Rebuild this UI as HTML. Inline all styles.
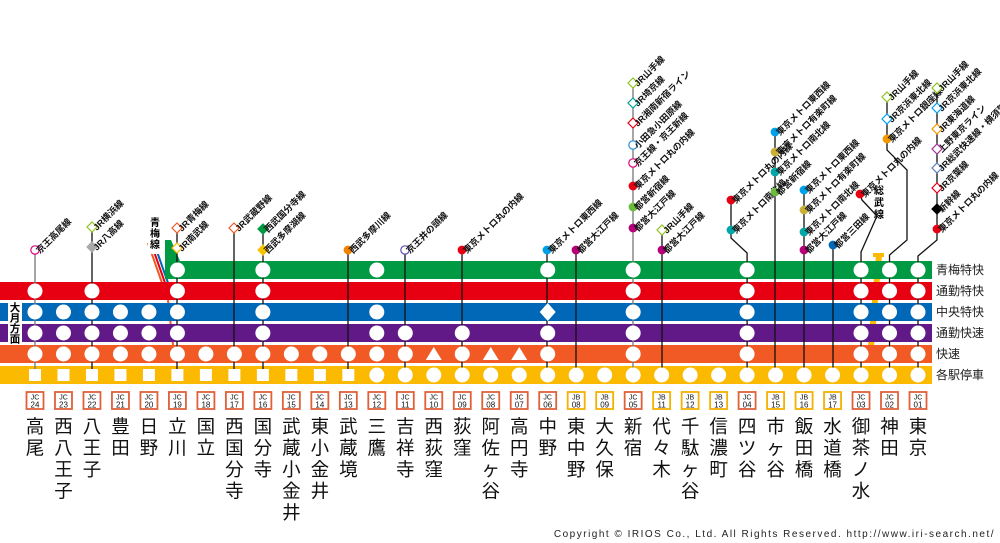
<!DOCTYPE html>
<html><head><meta charset="utf-8"><style>
html,body{margin:0;padding:0;background:#fff;}
svg{display:block;font-family:"Liberation Sans","Noto Sans CJK JP",sans-serif;}
</style></head><body>
<svg id="c" width="1000" height="543" viewBox="0 0 1000 543" xmlns="http://www.w3.org/2000/svg">
<g id="under"></g><g id="bands"></g><g id="lines"></g><g id="marks"></g><g id="labels"></g>
<text x="995" y="537" text-anchor="end" font-size="10" letter-spacing="1.5" fill="#222">Copyright © IRIOS Co., Ltd. All Rights Reserved.  http://www.iri-search.net/</text>
</svg>
<script>
const stations=["高尾","西八王子","八王子","豊田","日野","立川","国立","西国分寺","国分寺","武蔵小金井","東小金井","武蔵境","三鷹","吉祥寺","西荻窪","荻窪","阿佐ヶ谷","高円寺","中野","東中野","大久保","新宿","代々木","千駄ヶ谷","信濃町","四ツ谷","市ヶ谷","飯田橋","水道橋","御茶ノ水","神田","東京"];
const codes=["JC24","JC23","JC22","JC21","JC20","JC19","JC18","JC17","JC16","JC15","JC14","JC13","JC12","JC11","JC10","JC09","JC08","JC07","JC06","JB08","JB09","JC05","JB11","JB12","JB13","JC04","JB15","JB16","JB17","JC03","JC02","JC01"];
const bandNames=["青梅特快","通勤特快","中央特快","通勤快速","快速","各駅停車"];
const bandColors=["#009a44","#e60012","#0068b7","#601986","#f15a24","#fbb900"];
const stopGreen =".....o..o...o.....o..o...o...ooo";
const stopRed   ="o.o..o..o............o...o...ooo";
const stopBlue  ="oooooo..o...o.....d..o...o...ooo";
const stopPurple="oooooo..o...oo.o..o..o...o...ooo";
const stopOrange="oooooooooooooototto..o...o...ooo";
const stopYellow="ssssssssssssoooooooooooooooooooo";
const stops=[stopGreen,stopRed,stopBlue,stopPurple,stopOrange,stopYellow];
// transfers: [stationIndex, markerX, [[y,type,color,label],...]]
const transfers=[
[0,35,[[250,"oc","#e4007f","京王高尾線"]]],
[2,92,[[227,"od","#8fc31f","JR横浜線"],[247,"fd","#aaa","JR八高線"]]],
[5,177,[[228,"od","#f15a24","JR青梅線"],[248,"od","#fbb900","JR南武線"]]],
[7,234,[[228,"od","#f15a24","JR武蔵野線"]]],
[8,263,[[229,"fd","#009a44","西武国分寺線"],[250,"fd","#f7c200","西武多摩湖線"]]],
[11,348,[[250,"fc","#f08300","西武多摩川線"]]],
[13,405,[[250,"oc","#5a4fb0","京王井の頭線"]]],
[15,462,[[250,"fc","#e60012","東京メトロ丸の内線"]]],
[18,547,[[250,"fc","#00a0e9","東京メトロ東西線"]]],
[19,576,[[250,"fc","#b6007a","都営大江戸線"]]],
[21,633,[[83,"od","#8fc31f","JR山手線"],[103,"od","#00a29a","JR埼京線"],[123,"od","#e60012","JR湘南新宿ライン"],[145,"oc","#2e8fd8","小田急小田原線"],[163,"oc","#e4007f","京王線・京王新線"],[186,"fc","#e60012","東京メトロ丸の内線"],[207,"fc","#6cbb3c","都営新宿線"],[228,"fc","#b6007a","都営大江戸線"]]],
[22,662,[[230,"od","#8fc31f","JR山手線"],[250,"fc","#b6007a","都営大江戸線"]]],
[25,731,[[200,"fc","#e60012","東京メトロ丸の内線"],[230,"fc","#00a7a8","東京メトロ南北線"]]],
[26,775,[[132,"fc","#00a0e9","東京メトロ東西線"],[152,"fc","#c9b037","東京メトロ有楽町線"],[172,"fc","#00a7a8","東京メトロ南北線"],[192,"fc","#6cbb3c","都営新宿線"]]],
[27,804,[[190,"fc","#00a0e9","東京メトロ東西線"],[210,"fc","#c9b037","東京メトロ有楽町線"],[232,"fc","#00a7a8","東京メトロ南北線"],[250,"fc","#b6007a","都営大江戸線"]]],
[28,833,[[245,"fc","#0068b7","都営三田線"]]],
[29,860,[[194,"fc","#e60012","東京メトロ丸の内線"]]],
[30,887,[[97,"od","#8fc31f","JR山手線"],[119,"od","#00a0e9","JR京浜東北線"],[139,"fc","#f39800","東京メトロ銀座線"]]],
[31,937,[[88,"od","#8fc31f","JR山手線"],[108,"od","#00a0e9","JR京浜東北線"],[129,"od","#f39800","JR東海道線"],[149,"od","#a0309a","上野東京ライン"],[168,"od","#5a7fb5","JR総武快速線・横須賀線"],[188,"od","#e60012","JR京葉線"],[209,"fd","#000","新幹線"],[229,"fc","#e60012","東京メトロ丸の内線"]]]
];
const NS="http://www.w3.org/2000/svg";
function mk(tag,attrs,parent,txt){const e=document.createElementNS(NS,tag);for(const k in attrs)e.setAttribute(k,attrs[k]);if(txt!==undefined)e.textContent=txt;parent.appendChild(e);return e;}
const xOf=i=>35+i*(918-35)/31;
const bandY=b=>261+b*21;
const BH=18;
const under=document.getElementById('under'),bands=document.getElementById('bands'),lines=document.getElementById('lines'),marks=document.getElementById('marks'),labels=document.getElementById('labels');

[["#f15a24",148],["#e60012",151],["#0068b7",154]].forEach(([c,x0])=>{
  const l=mk('line',{x1:x0,y1:243,x2:x0+20,y2:300,stroke:c,'stroke-width':2},under);
  
  
});
const ol=mk('line',{x1:168,y1:300,x2:173,y2:345,stroke:"#f15a24",'stroke-width':2},under);


const sb=mk('line',{x1:879,y1:255,x2:871,y2:346,stroke:"#fbb900",'stroke-width':6},under);


mk('rect',{x:873,y:184,width:13,height:46,fill:'#fff'},under);
"総武線".split('').forEach((ch,i)=>{const t=mk('text',{x:879,y:194+i*12,'font-size':10,'text-anchor':'middle','font-weight':'bold'},under,ch);});
mk('rect',{x:873,y:253,width:11,height:4,fill:'#fbb900'},under);
mk('rect',{x:148,y:216,width:14,height:38,fill:'#fff'},under);
"青梅線".split('').forEach((ch,i)=>{const t=mk('text',{x:155,y:226+i*11,'font-size':10,'text-anchor':'middle','font-weight':'bold'},under,ch);});

bandNames.forEach((n,b)=>{
  const y=bandY(b);
  let e;
  if(b===0){e=mk('polygon',{points:`165,240 171,240 180,${y} 932,${y} 932,${y+BH} 165,${y+BH}`,fill:bandColors[b]},bands);}
  else e=mk('rect',{x:0,y:y,width:932,height:BH,fill:bandColors[b]},bands);
  
  
  const t=mk('text',{x:936,y:y+13,'font-size':12,fill:'#222'},labels,n);
  
  
});
mk('rect',{x:8,y:301,width:14,height:43,fill:'#fff'},labels);
"大月方面".split('').forEach((ch,i)=>{const t=mk('text',{x:15,y:311+i*10.5,'font-size':10.5,'text-anchor':'middle','font-weight':'bold'},labels,ch);});

transfers.forEach(([si,mx,items])=>{
  const sx=xOf(si);
  const top=items[0][0];
  let pts;
  if(si===25) pts=`${mx},${top} ${mx},238 ${sx},253 ${sx},375`;
  else if(si===29) pts=`${mx},${top} ${mx+2},200 ${mx+17},216 ${sx},252 ${sx},375`;
  else if(si===30) pts=`${mx},${top} ${mx},150 ${mx+20},170 ${mx+20},240 ${sx},255 ${sx},375`;
  else if(si===31) pts=`${mx},${top} ${mx},240 ${sx},256 ${sx},375`;
  else pts=`${mx},${top} ${mx},375`;
  const l=mk('polyline',{points:pts,fill:'none',stroke:(si===0||si===21)?'#777':'#111','stroke-width':1.3},lines);
  
  
  items.forEach(([y,type,col,lab])=>{
    let m;
    if(type==='od'||type==='fd') m=mk('polygon',{points:`${mx},${y-5} ${mx+5},${y} ${mx},${y+5} ${mx-5},${y}`,fill:type==='fd'?col:'#fff',stroke:col,'stroke-width':1.2},labels);
    else m=mk('circle',{cx:mx,cy:y,r:type==='fc'?3.8:4.2,fill:type==='fc'?col:'#fff',stroke:col,'stroke-width':1.2},labels);
    
    
    const t=mk('text',{transform:`translate(${mx+5},${y+4}) rotate(-45)`,'font-size':9,'font-weight':'bold',fill:'#111'},labels,lab);
    
    
  });
});

stops.forEach((s,b)=>{
  const cy=bandY(b)+BH/2;
  s.split('').forEach((k,i)=>{
    const x=xOf(i);let e;
    if(k==='.')return;
    if(k==='o') e=mk('circle',{cx:x,cy:cy,r:7.5,fill:'#fff'},marks);
    else if(k==='s') e=mk('rect',{x:x-6,y:cy-6,width:12,height:12,fill:'#fff'},marks);
    else if(k==='d') e=mk('polygon',{points:`${x},${cy-9} ${x+8},${cy} ${x},${cy+9} ${x-8},${cy}`,fill:'#fff'},marks);
    else if(k==='t') e=mk('polygon',{points:`${x},${cy-7} ${x+8},${cy+6} ${x-8},${cy+6}`,fill:'#fff'},marks);
    
    
  });
});

stations.forEach((n,i)=>{
  const x=xOf(i);const c=codes[i];const jb=c.startsWith('JB');
  const r=mk('rect',{x:x-8.5,y:392,width:17,height:17,fill:'#fff',stroke:jb?'#f5b100':'#e0603a','stroke-width':1.8},labels);
  
  
  mk('text',{x:x,y:399.5,'font-size':7,'text-anchor':'middle',fill:'#111'},labels,c.slice(0,2));
  mk('text',{x:x,y:407.5,'font-size':8,'text-anchor':'middle',fill:'#111'},labels,c.slice(2));
  const g=mk('g',{},labels);
  
  
  n.split('').forEach((ch,j)=>{
    mk('text',{x:x,y:433+j*21.5,'font-size':18.5,'text-anchor':'middle',fill:'#111'},g,ch);
  });
});
</script>
</body></html>
